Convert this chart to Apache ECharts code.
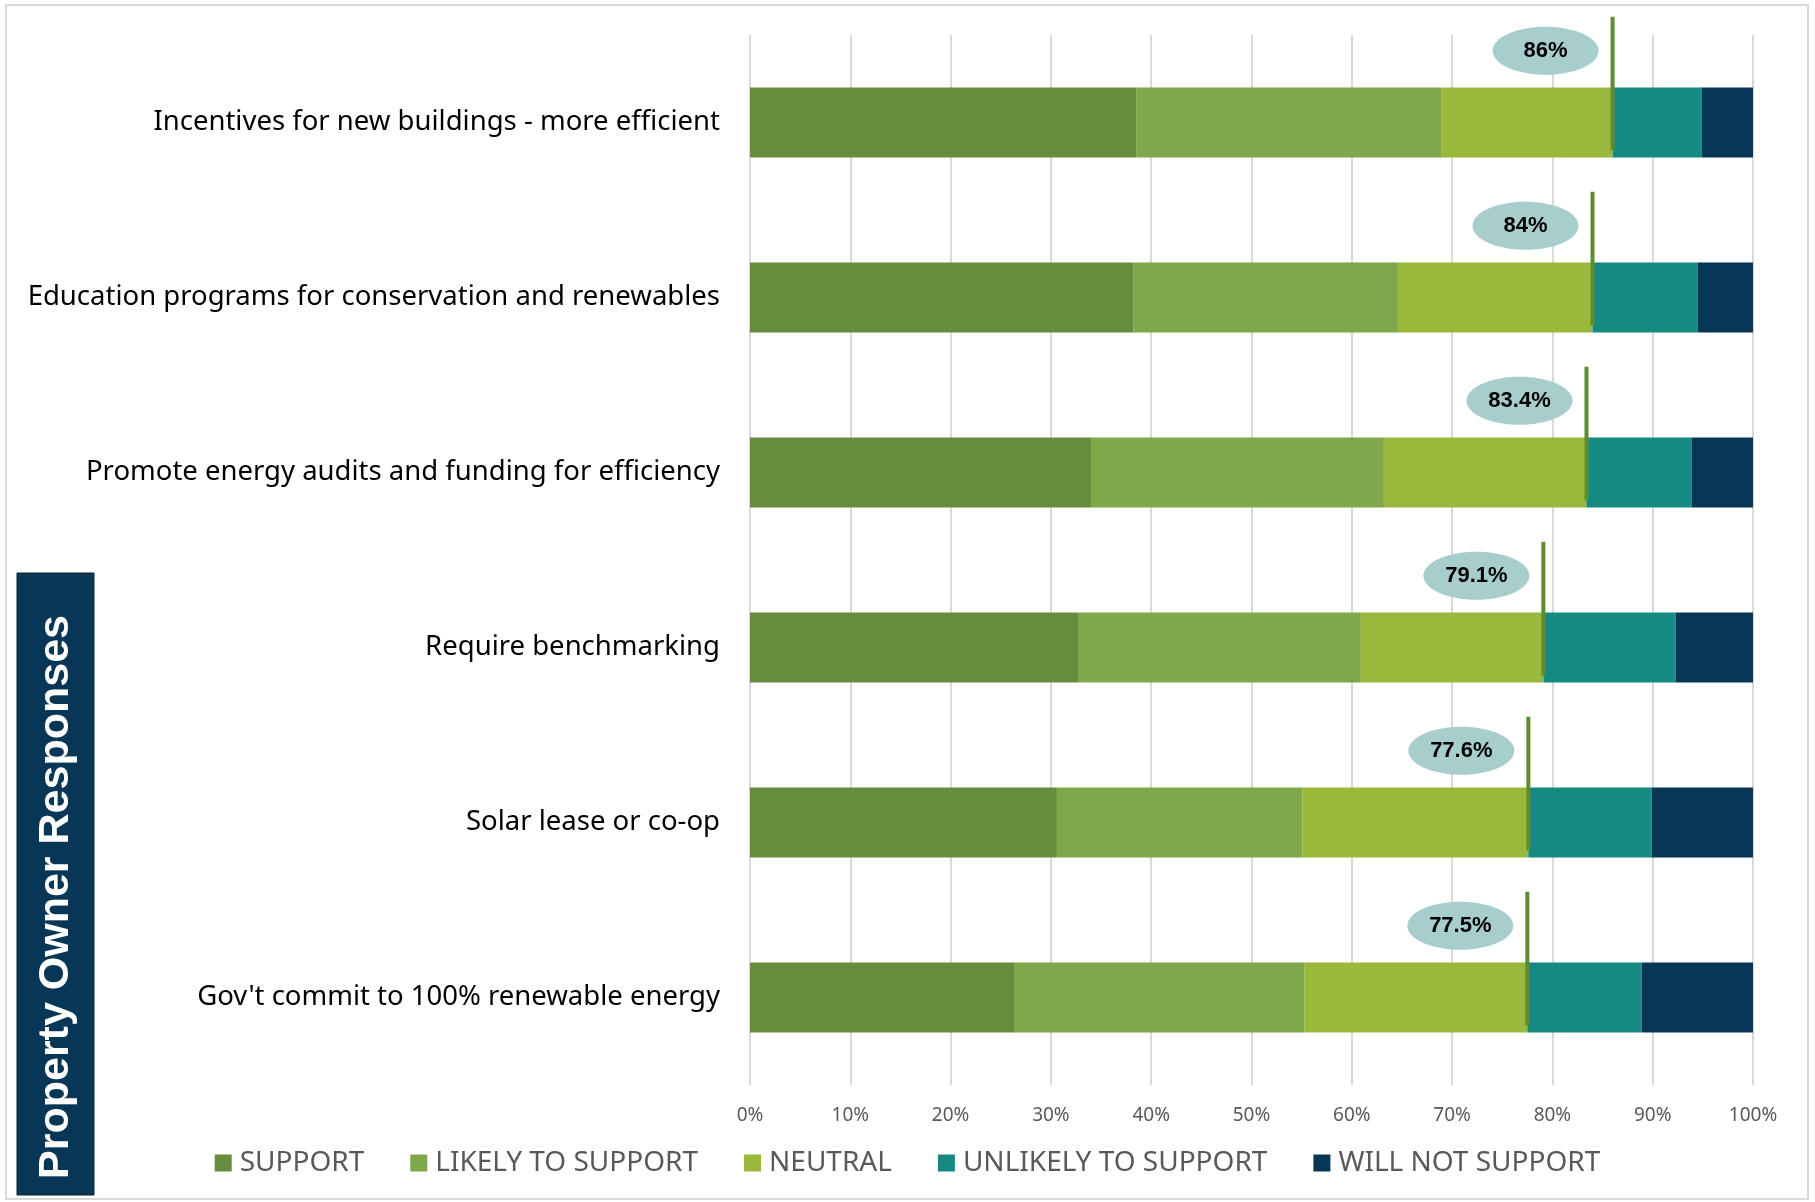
<!DOCTYPE html>
<html>
<head>
<meta charset="utf-8">
<script src="https://cdn.jsdelivr.net/npm/echarts@6/dist/echarts.min.js"></script>
<style>
  html, body { margin: 0; padding: 0; background: #fff; }
  #chart { width: 1815px; height: 1202px; }
</style>
</head>
<body>
<div id="chart"></div>
<script>
// survey answers, one entry per question (top to bottom)
const categories = [
  'Incentives for new buildings - more efficient',
  'Education programs for conservation and renewables',
  'Promote energy audits and funding for efficiency',
  'Require benchmarking',
  'Solar lease or co-op',
  "Gov't commit to 100% renewable energy"
];
const support  = [38.5, 38.2, 34.0, 32.7, 30.6, 26.4];
const likely   = [30.4, 26.4, 29.2, 28.2, 24.5, 28.9];
const neutral  = [17.1, 19.4, 20.2, 18.2, 22.5, 22.2];
const unlikely = [8.9, 10.5, 10.5, 13.2, 12.3, 11.4];
const willNot  = [5.1, 5.5, 6.1, 7.7, 10.1, 11.1];
// marker line + bubble
const favorable = [86, 84, 83.4, 79.1, 77.6, 77.5];
const favorableLabels = ['86%', '84%', '83.4%', '79.1%', '77.6%', '77.5%'];
const xTicks = [0, 10, 20, 30, 40, 50, 60, 70, 80, 90, 100];

const seriesNames = ['SUPPORT', 'LIKELY TO SUPPORT', 'NEUTRAL', 'UNLIKELY TO SUPPORT', 'WILL NOT SUPPORT'];
const seriesData = [support, likely, neutral, unlikely, willNot];
const colors = ['#678c3d', '#7ea84a', '#9ab93c', '#158a82', '#073656'];

const myChart = echarts.init(document.getElementById('chart'));

const barSeries = seriesNames.map((name, i) => ({
  name: name,
  type: 'bar',
  stack: 'total',
  barWidth: '40%',
  itemStyle: { color: colors[i] },
  data: seriesData[i]
}));

const option = {
  animation: false,
  color: colors,
  grid: { left: 750, right: 62, top: 35, bottom: 117 },
  legend: {
    data: seriesNames,
    left: 'center',
    top: 1144,
    icon: 'rect',
    itemWidth: 17,
    itemHeight: 17,
    itemGap: 46,
    textStyle: { fontSize: 28, color: '#595959', fontFamily: 'Noto Sans', padding: [0, 0, 0, 3] }
  },
  xAxis: {
    type: 'value',
    min: xTicks[0],
    max: xTicks[xTicks.length - 1],
    interval: 10,
    axisLine: { show: false },
    axisTick: { show: false },
    splitLine: { lineStyle: { color: '#d9d9d9', width: 2 } },
    axisLabel: {
      formatter: '{value}%',
      margin: 21,
      fontSize: 19,
      color: '#595959',
      fontFamily: 'Noto Sans'
    }
  },
  yAxis: {
    type: 'category',
    inverse: true,
    data: categories,
    axisLine: { show: false },
    axisTick: { show: false },
    axisLabel: { margin: 30, fontSize: 27.5, color: '#000', fontFamily: 'Noto Sans' }
  },
  series: barSeries.concat([{
    type: 'custom',
    name: 'favorable',
    z: 10,
    data: favorable.map((v, i) => [v, i]),
    encode: { x: 0, y: 1 },
    renderItem: function (params, api) {
      const p = api.coord([api.value(0), api.value(1)]);
      const band = api.size([0, 1])[1];
      const cx = p[0] - 67;
      const cy = p[1] - band * 0.41;
      return {
        type: 'group',
        children: [
          { type: 'line', shape: { x1: p[0], y1: p[1] - band * 0.605, x2: p[0], y2: p[1] + band * 0.16 },
            style: { stroke: '#5f8c32', lineWidth: 4 } },
          { type: 'ellipse', shape: { cx: cx, cy: cy, rx: 53, ry: 24 }, style: { fill: '#a8cdcd' } },
          { type: 'text', x: cx, y: cy,
            style: { text: favorableLabels[params.dataIndex], fill: '#000', align: 'center', verticalAlign: 'middle',
                     fontSize: 22, fontWeight: 'bold', fontFamily: 'Liberation Sans' } }
        ]
      };
    }
  }]),
  graphic: [
    { type: 'rect', shape: { x: 6, y: 5, width: 1802, height: 1194 }, style: { fill: 'none', stroke: '#d9d9d9', lineWidth: 2 }, z: -1 },
    { type: 'rect', shape: { x: 17, y: 573, width: 77, height: 622 }, style: { fill: '#073656', stroke: '#0b2238', lineWidth: 1 } },
    { type: 'text', x: 56, y: 897, rotation: Math.PI / 2,
      style: { text: 'Property Owner Responses', fill: '#fff', fontSize: 43, fontWeight: 'bold',
               fontFamily: 'Liberation Sans', align: 'center', verticalAlign: 'middle' } }
  ]
};

myChart.setOption(option);
</script>
</body>
</html>
